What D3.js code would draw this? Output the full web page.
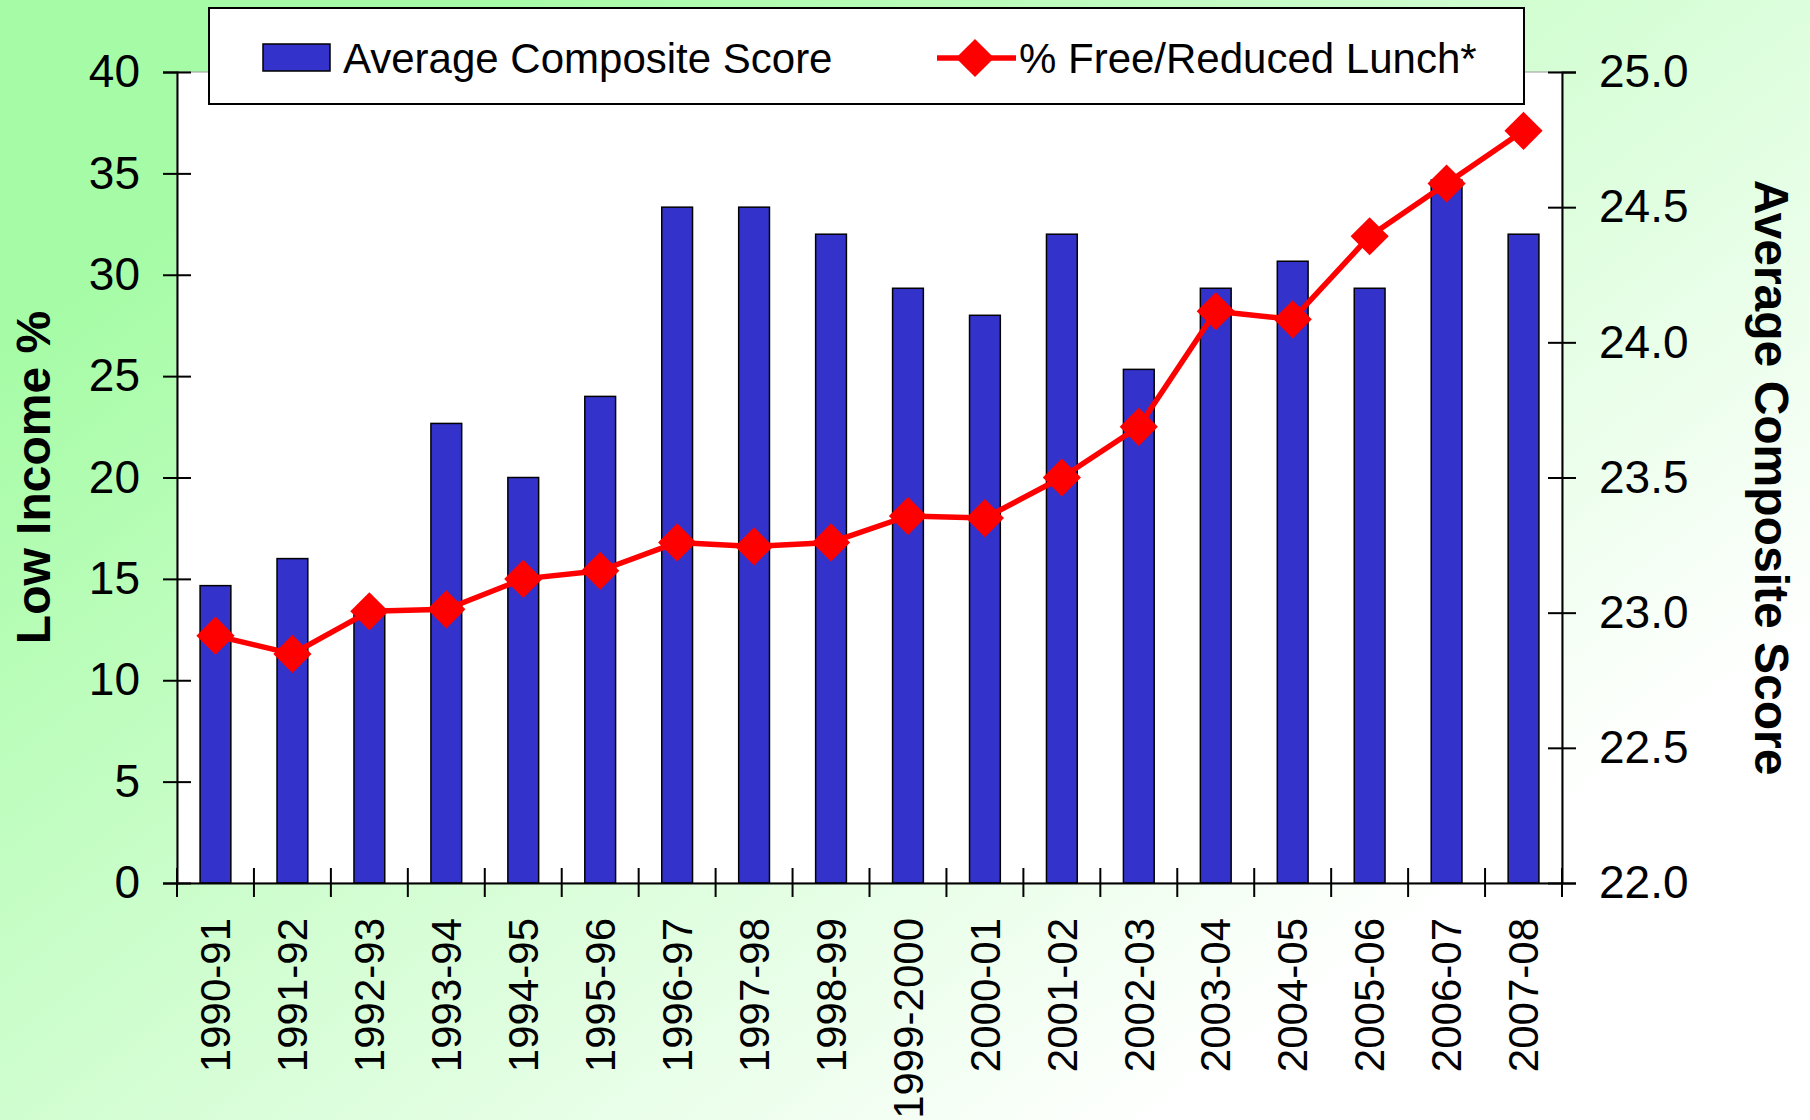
<!DOCTYPE html>
<html>
<head>
<meta charset="utf-8">
<script src="https://cdn.jsdelivr.net/npm/d3@7"></script>
<style>
  body { margin: 0; }
  text { font-family: 'Liberation Sans', Arial, sans-serif; }
</style>
</head>
<body>
<div id="chart"></div>
<script>
const years = ['1990-91', '1991-92', '1992-93', '1993-94', '1994-95', '1995-96', '1996-97', '1997-98', '1998-99',
  '1999-2000', '2000-01', '2001-02', '2002-03', '2003-04', '2004-05', '2005-06', '2006-07', '2007-08']

// bars, right axis
const compositeScore = [23.1, 23.2, 23.0, 23.7, 23.5, 23.8, 24.5, 24.5, 24.4,
  24.2, 24.1, 24.4, 23.9, 24.2, 24.3, 24.2, 24.6, 24.4]

// line, left axis
const lowIncomePct = [12.2, 11.3, 13.4, 13.5, 15.0, 15.4, 16.8, 16.6, 16.8,
  18.1, 18.0, 20.0, 22.5, 28.2, 27.8, 31.9, 34.5, 37.1]

const leftTicks = [0, 5, 10, 15, 20, 25, 30, 35, 40]
const rightTicks = [22.0, 22.5, 23.0, 23.5, 24.0, 24.5, 25.0]

const W = 1810
const H = 1120
const margin = { top: 72, left: 177, right: 248, bottom: 237 }
const width = W - margin.left - margin.right
const height = H - margin.top - margin.bottom

const root = d3
  .select('#chart')
  .append('svg')
  .attr('width', W)
  .attr('height', H)

// background gradient, green top-left fading to white bottom-right
const defs = root.append('defs')
const grad = defs
  .append('linearGradient')
  .attr('id', 'bg')
  .attr('gradientUnits', 'userSpaceOnUse')
  .attr('x1', 0)
  .attr('y1', 0)
  .attr('x2', 953)
  .attr('y2', 1278)
grad.append('stop').attr('offset', 0.176).attr('stop-color', '#a6fca6')
grad.append('stop').attr('offset', 1).attr('stop-color', '#ffffff')

root.append('rect').attr('width', W).attr('height', H).attr('fill', 'url(#bg)')

const svg = root.append('g').attr('transform', `translate(${margin.left},${margin.top})`)

const x = d3.scaleBand().domain(years).range([0, width]).padding(0)
const yLeft = d3.scaleLinear().domain([0, 40]).range([height, 0])
const yRight = d3.scaleLinear().domain([22, 25]).range([height, 0])

// plot area
svg
  .append('rect')
  .attr('width', width)
  .attr('height', height)
  .attr('fill', 'white')
  .attr('stroke', '#999')
  .attr('stroke-width', 1)

const barW = x.bandwidth() * 0.4

svg
  .selectAll('.bar')
  .data(years)
  .enter()
  .append('rect')
  .attr('class', 'bar')
  .attr('x', d => x(d) + (x.bandwidth() - barW) / 2)
  .attr('width', barW)
  .attr('y', (d, i) => yRight(compositeScore[i]))
  .attr('height', (d, i) => height - yRight(compositeScore[i]))
  .attr('fill', '#3333cc')
  .attr('stroke', 'black')
  .attr('stroke-width', 1.5)

// line
const line = d3
  .line()
  .x((d, i) => x(years[i]) + x.bandwidth() / 2)
  .y(d => yLeft(d))

svg
  .append('path')
  .datum(lowIncomePct)
  .attr('d', line)
  .attr('fill', 'none')
  .attr('stroke', '#ff0000')
  .attr('stroke-width', 5.5)
  .attr('stroke-linejoin', 'round')

const diamond = d3.symbol().type(d3.symbolSquare).size(27 * 27)

svg
  .selectAll('.marker')
  .data(lowIncomePct)
  .enter()
  .append('path')
  .attr('class', 'marker')
  .attr('d', diamond)
  .attr('fill', '#ff0000')
  .attr('transform', (d, i) => `translate(${x(years[i]) + x.bandwidth() / 2},${yLeft(d)}) rotate(45)`)

// axes
const leftAxis = svg
  .append('g')
  .call(d3.axisLeft(yLeft).tickValues(leftTicks).tickSize(14).tickPadding(23).tickFormat(d3.format('d')))
leftAxis.selectAll('.tick line').attr('x2', -14).attr('x1', 14)

const rightAxis = svg
  .append('g')
  .attr('transform', `translate(${width},0)`)
  .call(d3.axisRight(yRight).tickValues(rightTicks).tickSize(14).tickPadding(23).tickFormat(d3.format('.1f')))
rightAxis.selectAll('.tick line').attr('x1', -14)

const bottomAxis = svg
  .append('g')
  .attr('transform', `translate(0,${height})`)
  .call(d3.axisBottom(x).tickSize(0).tickSizeOuter(0))

bottomAxis.selectAll('.tick text').remove()

// category boundary ticks
bottomAxis
  .selectAll('.bound')
  .data(d3.range(years.length + 1))
  .enter()
  .append('line')
  .attr('class', 'bound')
  .attr('x1', i => i * x.step())
  .attr('x2', i => i * x.step())
  .attr('y1', -15)
  .attr('y2', 14)
  .attr('stroke', 'black')
  .attr('stroke-width', 2)

bottomAxis
  .selectAll('.xlab')
  .data(years)
  .enter()
  .append('text')
  .attr('class', 'xlab')
  .text(d => d)
  .attr('transform', d => `translate(${x(d) + x.bandwidth() / 2},35) rotate(-90)`)
  .attr('text-anchor', 'end')
  .attr('dy', '0.35em')
  .attr('fill', 'black')
  .attr('font-size', 42)

;[leftAxis, rightAxis, bottomAxis].forEach(a => {
  a.select('.domain').attr('stroke', 'black').attr('stroke-width', 2)
  a.selectAll('.tick line').attr('stroke', 'black').attr('stroke-width', 2)
  a.selectAll('.tick text').attr('font-size', 46).attr('fill', 'black').attr('font-family', "'Liberation Sans', Arial, sans-serif")
})

// axis titles
root
  .append('text')
  .text('Low Income %')
  .attr('transform', `translate(33,${margin.top + height / 2}) rotate(-90)`)
  .attr('text-anchor', 'middle')
  .attr('dy', '0.35em')
  .attr('font-size', 48)
  .attr('font-weight', 'bold')

root
  .append('text')
  .text('Average Composite Score')
  .attr('transform', `translate(1772,${margin.top + height / 2}) rotate(90)`)
  .attr('text-anchor', 'middle')
  .attr('dy', '0.35em')
  .attr('font-size', 48)
  .attr('font-weight', 'bold')

// legend
const legend = root.append('g').attr('transform', 'translate(209,8)')

legend
  .append('rect')
  .attr('width', 1315)
  .attr('height', 96)
  .attr('fill', 'white')
  .attr('stroke', 'black')
  .attr('stroke-width', 2)

legend
  .append('rect')
  .attr('x', 54)
  .attr('y', 36)
  .attr('width', 67)
  .attr('height', 27)
  .attr('fill', '#3333cc')
  .attr('stroke', 'black')
  .attr('stroke-width', 1.5)

legend
  .append('text')
  .text('Average Composite Score')
  .attr('x', 134)
  .attr('y', 65)
  .attr('font-size', 42)

legend
  .append('line')
  .attr('x1', 728)
  .attr('x2', 807)
  .attr('y1', 50)
  .attr('y2', 50)
  .attr('stroke', '#ff0000')
  .attr('stroke-width', 5.5)

legend
  .append('path')
  .attr('d', diamond)
  .attr('fill', '#ff0000')
  .attr('transform', 'translate(766,50) rotate(45)')

legend
  .append('text')
  .text('% Free/Reduced Lunch*')
  .attr('x', 810)
  .attr('y', 65)
  .attr('font-size', 42)
</script>
</body>
</html>
